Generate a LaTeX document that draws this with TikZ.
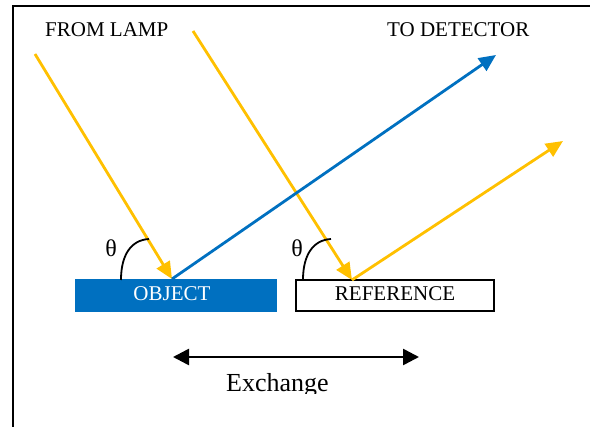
\documentclass[tikz,border=0pt]{standalone}
\usepackage{fontspec}
\setmainfont{Liberation Serif}
\usetikzlibrary{arrows.meta}
\definecolor{ray}{HTML}{FFC000}
\definecolor{objblue}{HTML}{0070C0}
\tikzset{
  lbl/.style={font=\fontsize{21}{21}\selectfont, inner sep=0pt, anchor=base},
  thlbl/.style={font=\fontsize{24}{24}\selectfont, inner sep=0pt, anchor=base},
  yray/.style={draw=ray, line width=2.8pt, -{Triangle[length=17pt,width=15pt]}},
  bray/.style={draw=objblue, line width=2.8pt, -{Triangle[length=17pt,width=15pt]}},
  anglearc/.style={draw=black, line width=1.8pt},
  frameline/.style={draw=black, line width=2pt},
  xarrow/.style={draw=black, line width=2.6pt, {Triangle[length=16pt,width=16pt]}-{Triangle[length=16pt,width=16pt]}},
}
\begin{document}
\begin{tikzpicture}[x=1pt,y=-1pt]
\useasboundingbox (0,0) rectangle (590,427);
% frame
\coordinate (fbl) at (13,427);
\coordinate (ftl) at (13,6);
\coordinate (ftr) at (590,6);
\draw[frameline] (fbl) -- (ftl) -- (ftr);
% labels
\node[lbl, anchor=base west] (lamp) at (45,37) {FROM LAMP};
\node[lbl, anchor=base west] (det) at (387,37) {TO DETECTOR};
% samples
\node[fill=objblue, minimum width=202pt, minimum height=33pt, inner sep=0pt] (obj) at (176,295.5) {};
\node[lbl, text=white] (objt) at (172,301) {OBJECT};
\node[draw=black, line width=1.6pt, fill=white, minimum width=198pt, minimum height=31pt, inner sep=0pt] (ref) at (395,295.5) {};
\node[lbl] (reft) at (395,301) {REFERENCE};
% ray points
\coordinate (s1) at (35,54);
\coordinate (h1) at (172,279);
\coordinate (s2) at (193,31);
\coordinate (h2) at (352,280);
\coordinate (t1) at (496,55);
\coordinate (t2) at (563,141);
\draw[yray] (s1) -- (h1);
\draw[yray] (s2) -- (h2);
\draw[bray] (h1) -- (t1);
\draw[yray] (h2) -- (t2);
% angle arcs
\coordinate (a1s) at (121,280);
\coordinate (a1e) at (149,239);
\coordinate (a2s) at (303,280);
\coordinate (a2e) at (331,239);
\draw[anglearc] (a1s) .. controls (121,255) and (131,240) .. (a1e);
\draw[anglearc] (a2s) .. controls (303,255) and (313,240) .. (a2e);
\node[thlbl] (th1) at (111,256.5) {θ};
\node[thlbl] (th2) at (297,256.5) {θ};
% exchange
\coordinate (xl) at (173,357);
\coordinate (xr) at (419,357);
\draw[xarrow] (xl) -- (xr);
\begin{scope}
\clip (0,0) rectangle (590,394);
\node[lbl, font=\fontsize{26}{26}\selectfont, anchor=base west] (exch) at (226,392) {Exchange};
\end{scope}
\end{tikzpicture}
\end{document}
